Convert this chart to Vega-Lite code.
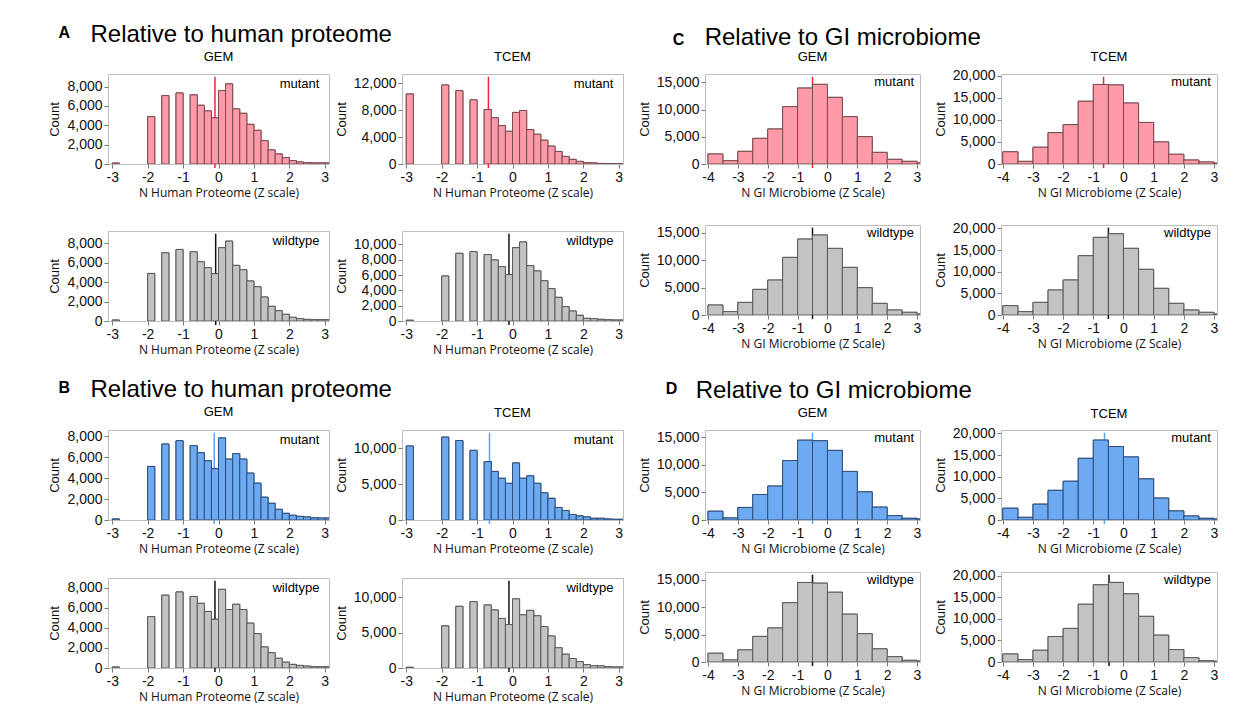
{
"$schema": "https://vega.github.io/schema/vega-lite/v6.json",
"background": "white",
"padding": {"left": 48, "top": 22, "right": 5, "bottom": 5},
"datasets": {
"meds": [
{"p":"AGm","m":-0.1,"g":"mutant"},{"p":"ATm","m":-0.68,"g":"mutant"},{"p":"AGw","m":-0.08,"g":"wildtype"},{"p":"ATw","m":-0.1,"g":"wildtype"},
{"p":"BGm","m":-0.12,"g":"mutant"},{"p":"BTm","m":-0.65,"g":"mutant"},{"p":"BGw","m":-0.1,"g":"wildtype"},{"p":"BTw","m":-0.1,"g":"wildtype"},
{"p":"CGm","m":-0.5,"g":"mutant"},{"p":"CTm","m":-0.66,"g":"mutant"},{"p":"CGw","m":-0.5,"g":"wildtype"},{"p":"CTw","m":-0.5,"g":"wildtype"},
{"p":"DGm","m":-0.5,"g":"mutant"},{"p":"DTm","m":-0.63,"g":"mutant"},{"p":"DGw","m":-0.5,"g":"wildtype"},{"p":"DTw","m":-0.48,"g":"wildtype"}
],
"bins": [
{"p":"AGm","a":-3,"b":-2.8,"n":100},{"p":"AGm","a":-2,"b":-1.8,"n":4900},{"p":"AGm","a":-1.6,"b":-1.4,"n":7070},{"p":"AGm","a":-1.2,"b":-1,"n":7340},{"p":"AGm","a":-0.8,"b":-0.6,"n":7140},{"p":"AGm","a":-0.6,"b":-0.4,"n":6070},{"p":"AGm","a":-0.4,"b":-0.2,"n":5490},{"p":"AGm","a":-0.2,"b":0,"n":4770},{"p":"AGm","a":0,"b":0.2,"n":7590},{"p":"AGm","a":0.2,"b":0.4,"n":8280},{"p":"AGm","a":0.4,"b":0.6,"n":5690},{"p":"AGm","a":0.6,"b":0.8,"n":5240},{"p":"AGm","a":0.8,"b":1,"n":4100},{"p":"AGm","a":1,"b":1.2,"n":3480},{"p":"AGm","a":1.2,"b":1.4,"n":2420},{"p":"AGm","a":1.4,"b":1.6,"n":1450},{"p":"AGm","a":1.6,"b":1.8,"n":1040},{"p":"AGm","a":1.8,"b":2,"n":660},{"p":"AGm","a":2,"b":2.2,"n":350},{"p":"AGm","a":2.2,"b":2.4,"n":210},{"p":"AGm","a":2.4,"b":2.6,"n":140},{"p":"AGm","a":2.6,"b":2.8,"n":110},{"p":"AGm","a":2.8,"b":3,"n":110},{"p":"AGm","a":3,"b":3.2,"n":110},
{"p":"ATm","a":-3,"b":-2.8,"n":10430},{"p":"ATm","a":-2,"b":-1.8,"n":11760},{"p":"ATm","a":-1.6,"b":-1.4,"n":10920},{"p":"ATm","a":-1.2,"b":-1,"n":9550},{"p":"ATm","a":-0.8,"b":-0.6,"n":8120},{"p":"ATm","a":-0.6,"b":-0.4,"n":6890},{"p":"ATm","a":-0.4,"b":-0.2,"n":5710},{"p":"ATm","a":-0.2,"b":0,"n":4870},{"p":"ATm","a":0,"b":0.2,"n":7680},{"p":"ATm","a":0.2,"b":0.4,"n":7970},{"p":"ATm","a":0.4,"b":0.6,"n":5120},{"p":"ATm","a":0.6,"b":0.8,"n":4430},{"p":"ATm","a":0.8,"b":1,"n":3540},{"p":"ATm","a":1,"b":1.2,"n":2660},{"p":"ATm","a":1.2,"b":1.4,"n":1870},{"p":"ATm","a":1.4,"b":1.6,"n":1130},{"p":"ATm","a":1.6,"b":1.8,"n":690},{"p":"ATm","a":1.8,"b":2,"n":390},{"p":"ATm","a":2,"b":2.2,"n":200},{"p":"ATm","a":2.2,"b":2.4,"n":150},{"p":"ATm","a":2.4,"b":2.6,"n":80},{"p":"ATm","a":2.6,"b":2.8,"n":60},{"p":"ATm","a":2.8,"b":3,"n":50},{"p":"ATm","a":3,"b":3.2,"n":40},
{"p":"AGw","a":-3,"b":-2.8,"n":100},{"p":"AGw","a":-2,"b":-1.8,"n":4900},{"p":"AGw","a":-1.6,"b":-1.4,"n":7030},{"p":"AGw","a":-1.2,"b":-1,"n":7370},{"p":"AGw","a":-0.8,"b":-0.6,"n":7130},{"p":"AGw","a":-0.6,"b":-0.4,"n":6100},{"p":"AGw","a":-0.4,"b":-0.2,"n":5490},{"p":"AGw","a":-0.2,"b":0,"n":4870},{"p":"AGw","a":0,"b":0.2,"n":7550},{"p":"AGw","a":0.2,"b":0.4,"n":8230},{"p":"AGw","a":0.4,"b":0.6,"n":5730},{"p":"AGw","a":0.6,"b":0.8,"n":5280},{"p":"AGw","a":0.8,"b":1,"n":4120},{"p":"AGw","a":1,"b":1.2,"n":3530},{"p":"AGw","a":1.2,"b":1.4,"n":2470},{"p":"AGw","a":1.4,"b":1.6,"n":1510},{"p":"AGw","a":1.6,"b":1.8,"n":1060},{"p":"AGw","a":1.8,"b":2,"n":690},{"p":"AGw","a":2,"b":2.2,"n":380},{"p":"AGw","a":2.2,"b":2.4,"n":240},{"p":"AGw","a":2.4,"b":2.6,"n":170},{"p":"AGw","a":2.6,"b":2.8,"n":140},{"p":"AGw","a":2.8,"b":3,"n":140},{"p":"AGw","a":3,"b":3.2,"n":140},
{"p":"ATw","a":-3,"b":-2.8,"n":100},{"p":"ATw","a":-2,"b":-1.8,"n":5870},{"p":"ATw","a":-1.6,"b":-1.4,"n":8830},{"p":"ATw","a":-1.2,"b":-1,"n":9050},{"p":"ATw","a":-0.8,"b":-0.6,"n":8660},{"p":"ATw","a":-0.6,"b":-0.4,"n":7960},{"p":"ATw","a":-0.4,"b":-0.2,"n":7090},{"p":"ATw","a":-0.2,"b":0,"n":6050},{"p":"ATw","a":0,"b":0.2,"n":9570},{"p":"ATw","a":0.2,"b":0.4,"n":10310},{"p":"ATw","a":0.4,"b":0.6,"n":7220},{"p":"ATw","a":0.6,"b":0.8,"n":6530},{"p":"ATw","a":0.8,"b":1,"n":5260},{"p":"ATw","a":1,"b":1.2,"n":4220},{"p":"ATw","a":1.2,"b":1.4,"n":3090},{"p":"ATw","a":1.4,"b":1.6,"n":1870},{"p":"ATw","a":1.6,"b":1.8,"n":1300},{"p":"ATw","a":1.8,"b":2,"n":740},{"p":"ATw","a":2,"b":2.2,"n":350},{"p":"ATw","a":2.2,"b":2.4,"n":300},{"p":"ATw","a":2.4,"b":2.6,"n":220},{"p":"ATw","a":2.6,"b":2.8,"n":170},{"p":"ATw","a":2.8,"b":3,"n":130},{"p":"ATw","a":3,"b":3.2,"n":130},
{"p":"BGm","a":-3,"b":-2.8,"n":100},{"p":"BGm","a":-2,"b":-1.8,"n":5120},{"p":"BGm","a":-1.6,"b":-1.4,"n":7260},{"p":"BGm","a":-1.2,"b":-1,"n":7580},{"p":"BGm","a":-0.8,"b":-0.6,"n":7100},{"p":"BGm","a":-0.6,"b":-0.4,"n":6430},{"p":"BGm","a":-0.4,"b":-0.2,"n":5660},{"p":"BGm","a":-0.2,"b":0,"n":4900},{"p":"BGm","a":0,"b":0.2,"n":7840},{"p":"BGm","a":0.2,"b":0.4,"n":5820},{"p":"BGm","a":0.4,"b":0.6,"n":6340},{"p":"BGm","a":0.6,"b":0.8,"n":5820},{"p":"BGm","a":0.8,"b":1,"n":4480},{"p":"BGm","a":1,"b":1.2,"n":3520},{"p":"BGm","a":1.2,"b":1.4,"n":2180},{"p":"BGm","a":1.4,"b":1.6,"n":1600},{"p":"BGm","a":1.6,"b":1.8,"n":1020},{"p":"BGm","a":1.8,"b":2,"n":640},{"p":"BGm","a":2,"b":2.2,"n":450},{"p":"BGm","a":2.2,"b":2.4,"n":350},{"p":"BGm","a":2.4,"b":2.6,"n":290},{"p":"BGm","a":2.6,"b":2.8,"n":220},{"p":"BGm","a":2.8,"b":3,"n":190},{"p":"BGm","a":3,"b":3.2,"n":190},
{"p":"BTm","a":-3,"b":-2.8,"n":10330},{"p":"BTm","a":-2,"b":-1.8,"n":11570},{"p":"BTm","a":-1.6,"b":-1.4,"n":11090},{"p":"BTm","a":-1.2,"b":-1,"n":9720},{"p":"BTm","a":-0.8,"b":-0.6,"n":8150},{"p":"BTm","a":-0.6,"b":-0.4,"n":6780},{"p":"BTm","a":-0.4,"b":-0.2,"n":5830},{"p":"BTm","a":-0.2,"b":0,"n":5120},{"p":"BTm","a":0,"b":0.2,"n":7960},{"p":"BTm","a":0.2,"b":0.4,"n":5830},{"p":"BTm","a":0.4,"b":0.6,"n":6160},{"p":"BTm","a":0.6,"b":0.8,"n":5120},{"p":"BTm","a":0.8,"b":1,"n":3790},{"p":"BTm","a":1,"b":1.2,"n":3030},{"p":"BTm","a":1.2,"b":1.4,"n":1750},{"p":"BTm","a":1.4,"b":1.6,"n":1330},{"p":"BTm","a":1.6,"b":1.8,"n":760},{"p":"BTm","a":1.8,"b":2,"n":570},{"p":"BTm","a":2,"b":2.2,"n":430},{"p":"BTm","a":2.2,"b":2.4,"n":240},{"p":"BTm","a":2.4,"b":2.6,"n":240},{"p":"BTm","a":2.6,"b":2.8,"n":140},{"p":"BTm","a":2.8,"b":3,"n":100},{"p":"BTm","a":3,"b":3.2,"n":100},
{"p":"BGw","a":-3,"b":-2.8,"n":100},{"p":"BGw","a":-2,"b":-1.8,"n":5120},{"p":"BGw","a":-1.6,"b":-1.4,"n":7260},{"p":"BGw","a":-1.2,"b":-1,"n":7580},{"p":"BGw","a":-0.8,"b":-0.6,"n":7130},{"p":"BGw","a":-0.6,"b":-0.4,"n":6450},{"p":"BGw","a":-0.4,"b":-0.2,"n":5640},{"p":"BGw","a":-0.2,"b":0,"n":4860},{"p":"BGw","a":0,"b":0.2,"n":7840},{"p":"BGw","a":0.2,"b":0.4,"n":5830},{"p":"BGw","a":0.4,"b":0.6,"n":6350},{"p":"BGw","a":0.6,"b":0.8,"n":5830},{"p":"BGw","a":0.8,"b":1,"n":4470},{"p":"BGw","a":1,"b":1.2,"n":3430},{"p":"BGw","a":1.2,"b":1.4,"n":2100},{"p":"BGw","a":1.4,"b":1.6,"n":1520},{"p":"BGw","a":1.6,"b":1.8,"n":970},{"p":"BGw","a":1.8,"b":2,"n":580},{"p":"BGw","a":2,"b":2.2,"n":360},{"p":"BGw","a":2.2,"b":2.4,"n":260},{"p":"BGw","a":2.4,"b":2.6,"n":190},{"p":"BGw","a":2.6,"b":2.8,"n":130},{"p":"BGw","a":2.8,"b":3,"n":130},{"p":"BGw","a":3,"b":3.2,"n":130},
{"p":"BTw","a":-3,"b":-2.8,"n":100},{"p":"BTw","a":-2,"b":-1.8,"n":5950},{"p":"BTw","a":-1.6,"b":-1.4,"n":8710},{"p":"BTw","a":-1.2,"b":-1,"n":9380},{"p":"BTw","a":-0.8,"b":-0.6,"n":8900},{"p":"BTw","a":-0.6,"b":-0.4,"n":8190},{"p":"BTw","a":-0.4,"b":-0.2,"n":7000},{"p":"BTw","a":-0.2,"b":0,"n":6140},{"p":"BTw","a":0,"b":0.2,"n":9760},{"p":"BTw","a":0.2,"b":0.4,"n":7520},{"p":"BTw","a":0.4,"b":0.6,"n":8140},{"p":"BTw","a":0.6,"b":0.8,"n":7380},{"p":"BTw","a":0.8,"b":1,"n":5850},{"p":"BTw","a":1,"b":1.2,"n":4520},{"p":"BTw","a":1.2,"b":1.4,"n":2860},{"p":"BTw","a":1.4,"b":1.6,"n":1950},{"p":"BTw","a":1.6,"b":1.8,"n":1330},{"p":"BTw","a":1.8,"b":2,"n":900},{"p":"BTw","a":2,"b":2.2,"n":480},{"p":"BTw","a":2.2,"b":2.4,"n":330},{"p":"BTw","a":2.4,"b":2.6,"n":290},{"p":"BTw","a":2.6,"b":2.8,"n":190},{"p":"BTw","a":2.8,"b":3,"n":140},{"p":"BTw","a":3,"b":3.2,"n":140},
{"p":"CGm","a":-4,"b":-3.5,"n":1840},{"p":"CGm","a":-3.5,"b":-3,"n":610},{"p":"CGm","a":-3,"b":-2.5,"n":2330},{"p":"CGm","a":-2.5,"b":-2,"n":4710},{"p":"CGm","a":-2,"b":-1.5,"n":6430},{"p":"CGm","a":-1.5,"b":-1,"n":10530},{"p":"CGm","a":-1,"b":-0.5,"n":13950},{"p":"CGm","a":-0.5,"b":0,"n":14630},{"p":"CGm","a":0,"b":0.5,"n":12240},{"p":"CGm","a":0.5,"b":1,"n":8690},{"p":"CGm","a":1,"b":1.5,"n":5020},{"p":"CGm","a":1.5,"b":2,"n":2140},{"p":"CGm","a":2,"b":2.5,"n":860},{"p":"CGm","a":2.5,"b":3,"n":490},{"p":"CGm","a":3,"b":3.5,"n":200},
{"p":"CTm","a":-4,"b":-3.5,"n":2770},{"p":"CTm","a":-3.5,"b":-3,"n":600},{"p":"CTm","a":-3,"b":-2.5,"n":3800},{"p":"CTm","a":-2.5,"b":-2,"n":7100},{"p":"CTm","a":-2,"b":-1.5,"n":8900},{"p":"CTm","a":-1.5,"b":-1,"n":14200},{"p":"CTm","a":-1,"b":-0.5,"n":18000},{"p":"CTm","a":-0.5,"b":0,"n":17900},{"p":"CTm","a":0,"b":0.5,"n":13800},{"p":"CTm","a":0.5,"b":1,"n":9400},{"p":"CTm","a":1,"b":1.5,"n":5000},{"p":"CTm","a":1.5,"b":2,"n":2200},{"p":"CTm","a":2,"b":2.5,"n":900},{"p":"CTm","a":2.5,"b":3,"n":450},{"p":"CTm","a":3,"b":3.5,"n":200},
{"p":"CGw","a":-4,"b":-3.5,"n":1820},{"p":"CGw","a":-3.5,"b":-3,"n":610},{"p":"CGw","a":-3,"b":-2.5,"n":2300},{"p":"CGw","a":-2.5,"b":-2,"n":4670},{"p":"CGw","a":-2,"b":-1.5,"n":6370},{"p":"CGw","a":-1.5,"b":-1,"n":10500},{"p":"CGw","a":-1,"b":-0.5,"n":13840},{"p":"CGw","a":-0.5,"b":0,"n":14570},{"p":"CGw","a":0,"b":0.5,"n":12140},{"p":"CGw","a":0.5,"b":1,"n":8680},{"p":"CGw","a":1,"b":1.5,"n":4980},{"p":"CGw","a":1.5,"b":2,"n":2120},{"p":"CGw","a":2,"b":2.5,"n":910},{"p":"CGw","a":2.5,"b":3,"n":490},{"p":"CGw","a":3,"b":3.5,"n":180},
{"p":"CTw","a":-4,"b":-3.5,"n":2150},{"p":"CTw","a":-3.5,"b":-3,"n":770},{"p":"CTw","a":-3,"b":-2.5,"n":2920},{"p":"CTw","a":-2.5,"b":-2,"n":5770},{"p":"CTw","a":-2,"b":-1.5,"n":8080},{"p":"CTw","a":-1.5,"b":-1,"n":13690},{"p":"CTw","a":-1,"b":-0.5,"n":17920},{"p":"CTw","a":-0.5,"b":0,"n":18760},{"p":"CTw","a":0,"b":0.5,"n":15380},{"p":"CTw","a":0.5,"b":1,"n":10540},{"p":"CTw","a":1,"b":1.5,"n":6150},{"p":"CTw","a":1.5,"b":2,"n":2690},{"p":"CTw","a":2,"b":2.5,"n":1150},{"p":"CTw","a":2.5,"b":3,"n":620},{"p":"CTw","a":3,"b":3.5,"n":230},
{"p":"DGm","a":-4,"b":-3.5,"n":1600},{"p":"DGm","a":-3.5,"b":-3,"n":370},{"p":"DGm","a":-3,"b":-2.5,"n":2280},{"p":"DGm","a":-2.5,"b":-2,"n":4630},{"p":"DGm","a":-2,"b":-1.5,"n":6170},{"p":"DGm","a":-1.5,"b":-1,"n":10800},{"p":"DGm","a":-1,"b":-0.5,"n":14500},{"p":"DGm","a":-0.5,"b":0,"n":14400},{"p":"DGm","a":0,"b":0.5,"n":12650},{"p":"DGm","a":0.5,"b":1,"n":8820},{"p":"DGm","a":1,"b":1.5,"n":5120},{"p":"DGm","a":1.5,"b":2,"n":2340},{"p":"DGm","a":2,"b":2.5,"n":800},{"p":"DGm","a":2.5,"b":3,"n":310},{"p":"DGm","a":3,"b":3.5,"n":180},
{"p":"DTm","a":-4,"b":-3.5,"n":2720},{"p":"DTm","a":-3.5,"b":-3,"n":620},{"p":"DTm","a":-3,"b":-2.5,"n":3660},{"p":"DTm","a":-2.5,"b":-2,"n":6850},{"p":"DTm","a":-2,"b":-1.5,"n":8950},{"p":"DTm","a":-1.5,"b":-1,"n":14240},{"p":"DTm","a":-1,"b":-0.5,"n":18440},{"p":"DTm","a":-0.5,"b":0,"n":16960},{"p":"DTm","a":0,"b":0.5,"n":14550},{"p":"DTm","a":0.5,"b":1,"n":9490},{"p":"DTm","a":1,"b":1.5,"n":5060},{"p":"DTm","a":1.5,"b":2,"n":2100},{"p":"DTm","a":2,"b":2.5,"n":930},{"p":"DTm","a":2.5,"b":3,"n":390},{"p":"DTm","a":3,"b":3.5,"n":230},
{"p":"DGw","a":-4,"b":-3.5,"n":1600},{"p":"DGw","a":-3.5,"b":-3,"n":370},{"p":"DGw","a":-3,"b":-2.5,"n":2210},{"p":"DGw","a":-2.5,"b":-2,"n":4670},{"p":"DGw","a":-2,"b":-1.5,"n":6210},{"p":"DGw","a":-1.5,"b":-1,"n":10820},{"p":"DGw","a":-1,"b":-0.5,"n":14510},{"p":"DGw","a":-0.5,"b":0,"n":14390},{"p":"DGw","a":0,"b":0.5,"n":12730},{"p":"DGw","a":0.5,"b":1,"n":8730},{"p":"DGw","a":1,"b":1.5,"n":5170},{"p":"DGw","a":1.5,"b":2,"n":2400},{"p":"DGw","a":2,"b":2.5,"n":980},{"p":"DGw","a":2.5,"b":3,"n":310},{"p":"DGw","a":3,"b":3.5,"n":180},
{"p":"DTw","a":-4,"b":-3.5,"n":1870},{"p":"DTw","a":-3.5,"b":-3,"n":540},{"p":"DTw","a":-3,"b":-2.5,"n":2720},{"p":"DTw","a":-2.5,"b":-2,"n":5910},{"p":"DTw","a":-2,"b":-1.5,"n":7780},{"p":"DTw","a":-1.5,"b":-1,"n":13380},{"p":"DTw","a":-1,"b":-0.5,"n":17890},{"p":"DTw","a":-0.5,"b":0,"n":18440},{"p":"DTw","a":0,"b":0.5,"n":15790},{"p":"DTw","a":0.5,"b":1,"n":10580},{"p":"DTw","a":1,"b":1.5,"n":6220},{"p":"DTw","a":1.5,"b":2,"n":2880},{"p":"DTw","a":2,"b":2.5,"n":1010},{"p":"DTw","a":2.5,"b":3,"n":310},{"p":"DTw","a":3,"b":3.5,"n":160}
]
},
"vconcat": [
{"hconcat": [
{"title": {"text": "A", "anchor": "start", "frame": "bounds", "fontSize": 16, "fontWeight": "bold", "dx": 10, "offset": -18},
 "vconcat": [
{"title": {"text": "Relative to human proteome", "anchor": "start", "frame": "bounds", "fontSize": 24, "dx": 42, "offset": 4},
 "columns": 2, "spacing": {"row": 31, "column": 4},
 "concat": [
 {"title": "GEM", "width": 221, "height": 90, "layer": [
  {"data": {"name": "bins"}, "transform": [{"filter": "datum.p==='AGm'"}], "mark": {"type": "rect", "fill": "#ff9aa9", "stroke": "#7a4b52", "strokeWidth": 1, "clip": true}, "encoding": {"x": {"field": "a", "type": "quantitative", "scale": {"domain": [-3.12, 3.12], "nice": false, "zero": false}, "axis": {"title": "N Human Proteome (Z scale)", "values": [-3,-2,-1,0,1,2,3], "format": "d", "labelOverlap": false, "tickCount": 20}}, "x2": {"field": "b"}, "y": {"field": "n", "type": "quantitative", "scale": {"domain": [0, 9300], "nice": false}, "axis": {"title": "Count", "values": [0,2000,4000,6000,8000], "format": ",d", "labelOverlap": false, "tickCount": 20}}, "y2": {"datum": 0}}},
  {"data": {"name": "meds"}, "transform": [{"filter": "datum.p==='AGm'"}], "mark": {"type": "rule", "color": "#f0262e", "strokeWidth": 1.5}, "encoding": {"x": {"field": "m", "type": "quantitative"}, "y": {"datum": 9020}, "y2": {"datum": -420}}},
  {"data": {"name": "bins"}, "transform": [{"filter": "datum.p==='AGm'"}], "mark": {"type": "rect", "fill": "#ff9aa9", "stroke": "#7a4b52", "strokeWidth": 1, "clip": true}, "encoding": {"x": {"field": "a", "type": "quantitative"}, "x2": {"field": "b"}, "y": {"field": "n", "type": "quantitative"}, "y2": {"datum": 0}}},
  {"data": {"name": "meds"}, "transform": [{"filter": "datum.p==='AGm'"}], "mark": {"type": "text", "align": "right", "baseline": "middle", "fontSize": 13, "font": "Liberation Sans"}, "encoding": {"x": {"datum": 2.85}, "y": {"datum": 8280}, "text": {"field": "g"}}}
 ]},
 {"title": "TCEM", "width": 221, "height": 90, "layer": [
  {"data": {"name": "bins"}, "transform": [{"filter": "datum.p==='ATm'"}], "mark": {"type": "rect", "fill": "#ff9aa9", "stroke": "#7a4b52", "strokeWidth": 1, "clip": true}, "encoding": {"x": {"field": "a", "type": "quantitative", "scale": {"domain": [-3.12, 3.12], "nice": false, "zero": false}, "axis": {"title": "N Human Proteome (Z scale)", "values": [-3,-2,-1,0,1,2,3], "format": "d", "labelOverlap": false, "tickCount": 20}}, "x2": {"field": "b"}, "y": {"field": "n", "type": "quantitative", "scale": {"domain": [0, 13400], "nice": false}, "axis": {"title": "Count", "values": [0,4000,8000,12000], "format": ",d", "labelOverlap": false, "tickCount": 20}}, "y2": {"datum": 0}}},
  {"data": {"name": "meds"}, "transform": [{"filter": "datum.p==='ATm'"}], "mark": {"type": "rule", "color": "#f0262e", "strokeWidth": 1.5}, "encoding": {"x": {"field": "m", "type": "quantitative"}, "y": {"datum": 13000}, "y2": {"datum": -600}}},
  {"data": {"name": "bins"}, "transform": [{"filter": "datum.p==='ATm'"}], "mark": {"type": "rect", "fill": "#ff9aa9", "stroke": "#7a4b52", "strokeWidth": 1, "clip": true}, "encoding": {"x": {"field": "a", "type": "quantitative"}, "x2": {"field": "b"}, "y": {"field": "n", "type": "quantitative"}, "y2": {"datum": 0}}},
  {"data": {"name": "meds"}, "transform": [{"filter": "datum.p==='ATm'"}], "mark": {"type": "text", "align": "right", "baseline": "middle", "fontSize": 13, "font": "Liberation Sans"}, "encoding": {"x": {"datum": 2.85}, "y": {"datum": 11930}, "text": {"field": "g"}}}
 ]},
 {"width": 221, "height": 90, "layer": [
  {"data": {"name": "bins"}, "transform": [{"filter": "datum.p==='AGw'"}], "mark": {"type": "rect", "fill": "#c3c3c3", "stroke": "#5a5a5a", "strokeWidth": 1, "clip": true}, "encoding": {"x": {"field": "a", "type": "quantitative", "scale": {"domain": [-3.12, 3.12], "nice": false, "zero": false}, "axis": {"title": "N Human Proteome (Z scale)", "values": [-3,-2,-1,0,1,2,3], "format": "d", "labelOverlap": false, "tickCount": 20}}, "x2": {"field": "b"}, "y": {"field": "n", "type": "quantitative", "scale": {"domain": [0, 9270], "nice": false}, "axis": {"title": "Count", "values": [0,2000,4000,6000,8000], "format": ",d", "labelOverlap": false, "tickCount": 20}}, "y2": {"datum": 0}}},
  {"data": {"name": "meds"}, "transform": [{"filter": "datum.p==='AGw'"}], "mark": {"type": "rule", "color": "#111111", "strokeWidth": 1.5}, "encoding": {"x": {"field": "m", "type": "quantitative"}, "y": {"datum": 8990}, "y2": {"datum": -420}}},
  {"data": {"name": "bins"}, "transform": [{"filter": "datum.p==='AGw'"}], "mark": {"type": "rect", "fill": "#c3c3c3", "stroke": "#5a5a5a", "strokeWidth": 1, "clip": true}, "encoding": {"x": {"field": "a", "type": "quantitative"}, "x2": {"field": "b"}, "y": {"field": "n", "type": "quantitative"}, "y2": {"datum": 0}}},
  {"data": {"name": "meds"}, "transform": [{"filter": "datum.p==='AGw'"}], "mark": {"type": "text", "align": "right", "baseline": "middle", "fontSize": 13, "font": "Liberation Sans"}, "encoding": {"x": {"datum": 2.85}, "y": {"datum": 8250}, "text": {"field": "g"}}}
 ]},
 {"width": 221, "height": 90, "layer": [
  {"data": {"name": "bins"}, "transform": [{"filter": "datum.p==='ATw'"}], "mark": {"type": "rect", "fill": "#c3c3c3", "stroke": "#5a5a5a", "strokeWidth": 1, "clip": true}, "encoding": {"x": {"field": "a", "type": "quantitative", "scale": {"domain": [-3.12, 3.12], "nice": false, "zero": false}, "axis": {"title": "N Human Proteome (Z scale)", "values": [-3,-2,-1,0,1,2,3], "format": "d", "labelOverlap": false, "tickCount": 20}}, "x2": {"field": "b"}, "y": {"field": "n", "type": "quantitative", "scale": {"domain": [0, 11740], "nice": false}, "axis": {"title": "Count", "values": [0,2000,4000,6000,8000,10000], "format": ",d", "labelOverlap": false, "tickCount": 20}}, "y2": {"datum": 0}}},
  {"data": {"name": "meds"}, "transform": [{"filter": "datum.p==='ATw'"}], "mark": {"type": "rule", "color": "#111111", "strokeWidth": 1.5}, "encoding": {"x": {"field": "m", "type": "quantitative"}, "y": {"datum": 11390}, "y2": {"datum": -530}}},
  {"data": {"name": "bins"}, "transform": [{"filter": "datum.p==='ATw'"}], "mark": {"type": "rect", "fill": "#c3c3c3", "stroke": "#5a5a5a", "strokeWidth": 1, "clip": true}, "encoding": {"x": {"field": "a", "type": "quantitative"}, "x2": {"field": "b"}, "y": {"field": "n", "type": "quantitative"}, "y2": {"datum": 0}}},
  {"data": {"name": "meds"}, "transform": [{"filter": "datum.p==='ATw'"}], "mark": {"type": "text", "align": "right", "baseline": "middle", "fontSize": 13, "font": "Liberation Sans"}, "encoding": {"x": {"datum": 2.85}, "y": {"datum": 10450}, "text": {"field": "g"}}}
 ]}
 ]}]},
{"title": {"text": "C", "anchor": "start", "frame": "bounds", "fontSize": 16, "fontWeight": "bold", "dx": 35, "dy": 4, "offset": -18},
 "vconcat": [
{"title": {"text": "Relative to GI microbiome", "anchor": "start", "frame": "bounds", "fontSize": 24, "dx": 67, "dy": 4, "offset": 4},
 "columns": 2, "spacing": {"row": 21, "column": 11},
 "concat": [
 {"title": "GEM", "width": 215, "height": 90, "layer": [
  {"data": {"name": "bins"}, "transform": [{"filter": "datum.p==='CGm'"}], "mark": {"type": "rect", "fill": "#ff9aa9", "stroke": "#7a4b52", "strokeWidth": 1, "clip": true}, "encoding": {"x": {"field": "a", "type": "quantitative", "scale": {"domain": [-4.1, 3.1], "nice": false, "zero": false}, "axis": {"title": "N GI Microbiome (Z Scale)", "values": [-4,-3,-2,-1,0,1,2,3], "format": "d", "labelOverlap": false, "tickCount": 20}}, "x2": {"field": "b"}, "y": {"field": "n", "type": "quantitative", "scale": {"domain": [0, 16530], "nice": false}, "axis": {"title": "Count", "values": [0,5000,10000,15000], "format": ",d", "labelOverlap": false, "tickCount": 20}}, "y2": {"datum": 0}}},
  {"data": {"name": "meds"}, "transform": [{"filter": "datum.p==='CGm'"}], "mark": {"type": "rule", "color": "#f0262e", "strokeWidth": 1.5}, "encoding": {"x": {"field": "m", "type": "quantitative"}, "y": {"datum": 16000}, "y2": {"datum": -740}}},
  {"data": {"name": "bins"}, "transform": [{"filter": "datum.p==='CGm'"}], "mark": {"type": "rect", "fill": "#ff9aa9", "stroke": "#7a4b52", "strokeWidth": 1, "clip": true}, "encoding": {"x": {"field": "a", "type": "quantitative"}, "x2": {"field": "b"}, "y": {"field": "n", "type": "quantitative"}, "y2": {"datum": 0}}},
  {"data": {"name": "meds"}, "transform": [{"filter": "datum.p==='CGm'"}], "mark": {"type": "text", "align": "right", "baseline": "middle", "fontSize": 13, "font": "Liberation Sans"}, "encoding": {"x": {"datum": 2.9}, "y": {"datum": 15040}, "text": {"field": "g"}}}
 ]},
 {"title": {"text": "TCEM", "offset": 5}, "width": 216, "height": 90, "layer": [
  {"data": {"name": "bins"}, "transform": [{"filter": "datum.p==='CTm'"}], "mark": {"type": "rect", "fill": "#ff9aa9", "stroke": "#7a4b52", "strokeWidth": 1, "clip": true}, "encoding": {"x": {"field": "a", "type": "quantitative", "scale": {"domain": [-4.06, 3.1], "nice": false, "zero": false}, "axis": {"title": "N GI Microbiome (Z Scale)", "values": [-4,-3,-2,-1,0,1,2,3], "format": "d", "labelOverlap": false, "tickCount": 20}}, "x2": {"field": "b"}, "y": {"field": "n", "type": "quantitative", "scale": {"domain": [0, 20370], "nice": false}, "axis": {"title": "Count", "values": [0,5000,10000,15000,20000], "format": ",d", "labelOverlap": false, "tickCount": 20}}, "y2": {"datum": 0}}},
  {"data": {"name": "meds"}, "transform": [{"filter": "datum.p==='CTm'"}], "mark": {"type": "rule", "color": "#f0262e", "strokeWidth": 1.5}, "encoding": {"x": {"field": "m", "type": "quantitative"}, "y": {"datum": 19760}, "y2": {"datum": -920}}},
  {"data": {"name": "bins"}, "transform": [{"filter": "datum.p==='CTm'"}], "mark": {"type": "rect", "fill": "#ff9aa9", "stroke": "#7a4b52", "strokeWidth": 1, "clip": true}, "encoding": {"x": {"field": "a", "type": "quantitative"}, "x2": {"field": "b"}, "y": {"field": "n", "type": "quantitative"}, "y2": {"datum": 0}}},
  {"data": {"name": "meds"}, "transform": [{"filter": "datum.p==='CTm'"}], "mark": {"type": "text", "align": "right", "baseline": "middle", "fontSize": 13, "font": "Liberation Sans"}, "encoding": {"x": {"datum": 2.9}, "y": {"datum": 18540}, "text": {"field": "g"}}}
 ]},
 {"width": 215, "height": 90, "layer": [
  {"data": {"name": "bins"}, "transform": [{"filter": "datum.p==='CGw'"}], "mark": {"type": "rect", "fill": "#c3c3c3", "stroke": "#5a5a5a", "strokeWidth": 1, "clip": true}, "encoding": {"x": {"field": "a", "type": "quantitative", "scale": {"domain": [-4.1, 3.1], "nice": false, "zero": false}, "axis": {"title": "N GI Microbiome (Z Scale)", "values": [-4,-3,-2,-1,0,1,2,3], "format": "d", "labelOverlap": false, "tickCount": 20}}, "x2": {"field": "b"}, "y": {"field": "n", "type": "quantitative", "scale": {"domain": [0, 16400], "nice": false}, "axis": {"title": "Count", "values": [0,5000,10000,15000], "format": ",d", "labelOverlap": false, "tickCount": 20}}, "y2": {"datum": 0}}},
  {"data": {"name": "meds"}, "transform": [{"filter": "datum.p==='CGw'"}], "mark": {"type": "rule", "color": "#111111", "strokeWidth": 1.5}, "encoding": {"x": {"field": "m", "type": "quantitative"}, "y": {"datum": 15910}, "y2": {"datum": -740}}},
  {"data": {"name": "bins"}, "transform": [{"filter": "datum.p==='CGw'"}], "mark": {"type": "rect", "fill": "#c3c3c3", "stroke": "#5a5a5a", "strokeWidth": 1, "clip": true}, "encoding": {"x": {"field": "a", "type": "quantitative"}, "x2": {"field": "b"}, "y": {"field": "n", "type": "quantitative"}, "y2": {"datum": 0}}},
  {"data": {"name": "meds"}, "transform": [{"filter": "datum.p==='CGw'"}], "mark": {"type": "text", "align": "right", "baseline": "middle", "fontSize": 13, "font": "Liberation Sans"}, "encoding": {"x": {"datum": 2.9}, "y": {"datum": 14920}, "text": {"field": "g"}}}
 ]},
 {"width": 216, "height": 90, "layer": [
  {"data": {"name": "bins"}, "transform": [{"filter": "datum.p==='CTw'"}], "mark": {"type": "rect", "fill": "#c3c3c3", "stroke": "#5a5a5a", "strokeWidth": 1, "clip": true}, "encoding": {"x": {"field": "a", "type": "quantitative", "scale": {"domain": [-4.06, 3.1], "nice": false, "zero": false}, "axis": {"title": "N GI Microbiome (Z Scale)", "values": [-4,-3,-2,-1,0,1,2,3], "format": "d", "labelOverlap": false, "tickCount": 20}}, "x2": {"field": "b"}, "y": {"field": "n", "type": "quantitative", "scale": {"domain": [0, 20770], "nice": false}, "axis": {"title": "Count", "values": [0,5000,10000,15000,20000], "format": ",d", "labelOverlap": false, "tickCount": 20}}, "y2": {"datum": 0}}},
  {"data": {"name": "meds"}, "transform": [{"filter": "datum.p==='CTw'"}], "mark": {"type": "rule", "color": "#111111", "strokeWidth": 1.5}, "encoding": {"x": {"field": "m", "type": "quantitative"}, "y": {"datum": 20150}, "y2": {"datum": -930}}},
  {"data": {"name": "bins"}, "transform": [{"filter": "datum.p==='CTw'"}], "mark": {"type": "rect", "fill": "#c3c3c3", "stroke": "#5a5a5a", "strokeWidth": 1, "clip": true}, "encoding": {"x": {"field": "a", "type": "quantitative"}, "x2": {"field": "b"}, "y": {"field": "n", "type": "quantitative"}, "y2": {"datum": 0}}},
  {"data": {"name": "meds"}, "transform": [{"filter": "datum.p==='CTw'"}], "mark": {"type": "text", "align": "right", "baseline": "middle", "fontSize": 13, "font": "Liberation Sans"}, "encoding": {"x": {"datum": 2.9}, "y": {"datum": 18900}, "text": {"field": "g"}}}
 ]}
 ]}]}
], "spacing": 13},
{"hconcat": [
{"title": {"text": "B", "anchor": "start", "frame": "bounds", "fontSize": 16, "fontWeight": "bold", "dx": 10, "offset": -18},
 "vconcat": [
{"title": {"text": "Relative to human proteome", "anchor": "start", "frame": "bounds", "fontSize": 24, "dx": 42, "offset": 4},
 "columns": 2, "spacing": {"row": 22, "column": 4},
 "concat": [
 {"title": "GEM", "width": 221, "height": 90, "layer": [
  {"data": {"name": "bins"}, "transform": [{"filter": "datum.p==='BGm'"}], "mark": {"type": "rect", "fill": "#6eaaf2", "stroke": "#2f4f7a", "strokeWidth": 1, "clip": true}, "encoding": {"x": {"field": "a", "type": "quantitative", "scale": {"domain": [-3.12, 3.12], "nice": false, "zero": false}, "axis": {"title": "N Human Proteome (Z scale)", "values": [-3,-2,-1,0,1,2,3], "format": "d", "labelOverlap": false, "tickCount": 20}}, "x2": {"field": "b"}, "y": {"field": "n", "type": "quantitative", "scale": {"domain": [0, 8600], "nice": false}, "axis": {"title": "Count", "values": [0,2000,4000,6000,8000], "format": ",d", "labelOverlap": false, "tickCount": 20}}, "y2": {"datum": 0}}},
  {"data": {"name": "meds"}, "transform": [{"filter": "datum.p==='BGm'"}], "mark": {"type": "rule", "color": "#5ba3f5", "strokeWidth": 1.5}, "encoding": {"x": {"field": "m", "type": "quantitative"}, "y": {"datum": 8340}, "y2": {"datum": -390}}},
  {"data": {"name": "bins"}, "transform": [{"filter": "datum.p==='BGm'"}], "mark": {"type": "rect", "fill": "#6eaaf2", "stroke": "#2f4f7a", "strokeWidth": 1, "clip": true}, "encoding": {"x": {"field": "a", "type": "quantitative"}, "x2": {"field": "b"}, "y": {"field": "n", "type": "quantitative"}, "y2": {"datum": 0}}},
  {"data": {"name": "meds"}, "transform": [{"filter": "datum.p==='BGm'"}], "mark": {"type": "text", "align": "right", "baseline": "middle", "fontSize": 13, "font": "Liberation Sans"}, "encoding": {"x": {"datum": 2.85}, "y": {"datum": 7650}, "text": {"field": "g"}}}
 ]},
 {"title": "TCEM", "width": 221, "height": 90, "layer": [
  {"data": {"name": "bins"}, "transform": [{"filter": "datum.p==='BTm'"}], "mark": {"type": "rect", "fill": "#6eaaf2", "stroke": "#2f4f7a", "strokeWidth": 1, "clip": true}, "encoding": {"x": {"field": "a", "type": "quantitative", "scale": {"domain": [-3.12, 3.12], "nice": false, "zero": false}, "axis": {"title": "N Human Proteome (Z scale)", "values": [-3,-2,-1,0,1,2,3], "format": "d", "labelOverlap": false, "tickCount": 20}}, "x2": {"field": "b"}, "y": {"field": "n", "type": "quantitative", "scale": {"domain": [0, 12560], "nice": false}, "axis": {"title": "Count", "values": [0,5000,10000], "format": ",d", "labelOverlap": false, "tickCount": 20}}, "y2": {"datum": 0}}},
  {"data": {"name": "meds"}, "transform": [{"filter": "datum.p==='BTm'"}], "mark": {"type": "rule", "color": "#5ba3f5", "strokeWidth": 1.5}, "encoding": {"x": {"field": "m", "type": "quantitative"}, "y": {"datum": 12180}, "y2": {"datum": -565}}},
  {"data": {"name": "bins"}, "transform": [{"filter": "datum.p==='BTm'"}], "mark": {"type": "rect", "fill": "#6eaaf2", "stroke": "#2f4f7a", "strokeWidth": 1, "clip": true}, "encoding": {"x": {"field": "a", "type": "quantitative"}, "x2": {"field": "b"}, "y": {"field": "n", "type": "quantitative"}, "y2": {"datum": 0}}},
  {"data": {"name": "meds"}, "transform": [{"filter": "datum.p==='BTm'"}], "mark": {"type": "text", "align": "right", "baseline": "middle", "fontSize": 13, "font": "Liberation Sans"}, "encoding": {"x": {"datum": 2.85}, "y": {"datum": 11180}, "text": {"field": "g"}}}
 ]},
 {"width": 221, "height": 90, "layer": [
  {"data": {"name": "bins"}, "transform": [{"filter": "datum.p==='BGw'"}], "mark": {"type": "rect", "fill": "#c3c3c3", "stroke": "#5a5a5a", "strokeWidth": 1, "clip": true}, "encoding": {"x": {"field": "a", "type": "quantitative", "scale": {"domain": [-3.12, 3.12], "nice": false, "zero": false}, "axis": {"title": "N Human Proteome (Z scale)", "values": [-3,-2,-1,0,1,2,3], "format": "d", "labelOverlap": false, "tickCount": 20}}, "x2": {"field": "b"}, "y": {"field": "n", "type": "quantitative", "scale": {"domain": [0, 8970], "nice": false}, "axis": {"title": "Count", "values": [0,2000,4000,6000,8000], "format": ",d", "labelOverlap": false, "tickCount": 20}}, "y2": {"datum": 0}}},
  {"data": {"name": "meds"}, "transform": [{"filter": "datum.p==='BGw'"}], "mark": {"type": "rule", "color": "#111111", "strokeWidth": 1.5}, "encoding": {"x": {"field": "m", "type": "quantitative"}, "y": {"datum": 8700}, "y2": {"datum": -400}}},
  {"data": {"name": "bins"}, "transform": [{"filter": "datum.p==='BGw'"}], "mark": {"type": "rect", "fill": "#c3c3c3", "stroke": "#5a5a5a", "strokeWidth": 1, "clip": true}, "encoding": {"x": {"field": "a", "type": "quantitative"}, "x2": {"field": "b"}, "y": {"field": "n", "type": "quantitative"}, "y2": {"datum": 0}}},
  {"data": {"name": "meds"}, "transform": [{"filter": "datum.p==='BGw'"}], "mark": {"type": "text", "align": "right", "baseline": "middle", "fontSize": 13, "font": "Liberation Sans"}, "encoding": {"x": {"datum": 2.85}, "y": {"datum": 7980}, "text": {"field": "g"}}}
 ]},
 {"width": 221, "height": 90, "layer": [
  {"data": {"name": "bins"}, "transform": [{"filter": "datum.p==='BTw'"}], "mark": {"type": "rect", "fill": "#c3c3c3", "stroke": "#5a5a5a", "strokeWidth": 1, "clip": true}, "encoding": {"x": {"field": "a", "type": "quantitative", "scale": {"domain": [-3.12, 3.12], "nice": false, "zero": false}, "axis": {"title": "N Human Proteome (Z scale)", "values": [-3,-2,-1,0,1,2,3], "format": "d", "labelOverlap": false, "tickCount": 20}}, "x2": {"field": "b"}, "y": {"field": "n", "type": "quantitative", "scale": {"domain": [0, 12710], "nice": false}, "axis": {"title": "Count", "values": [0,5000,10000], "format": ",d", "labelOverlap": false, "tickCount": 20}}, "y2": {"datum": 0}}},
  {"data": {"name": "meds"}, "transform": [{"filter": "datum.p==='BTw'"}], "mark": {"type": "rule", "color": "#111111", "strokeWidth": 1.5}, "encoding": {"x": {"field": "m", "type": "quantitative"}, "y": {"datum": 12330}, "y2": {"datum": -570}}},
  {"data": {"name": "bins"}, "transform": [{"filter": "datum.p==='BTw'"}], "mark": {"type": "rect", "fill": "#c3c3c3", "stroke": "#5a5a5a", "strokeWidth": 1, "clip": true}, "encoding": {"x": {"field": "a", "type": "quantitative"}, "x2": {"field": "b"}, "y": {"field": "n", "type": "quantitative"}, "y2": {"datum": 0}}},
  {"data": {"name": "meds"}, "transform": [{"filter": "datum.p==='BTw'"}], "mark": {"type": "text", "align": "right", "baseline": "middle", "fontSize": 13, "font": "Liberation Sans"}, "encoding": {"x": {"datum": 2.85}, "y": {"datum": 11310}, "text": {"field": "g"}}}
 ]}
 ]}]},
{"title": {"text": "D", "anchor": "start", "frame": "bounds", "fontSize": 16, "fontWeight": "bold", "dx": 28, "offset": -18},
 "vconcat": [
{"title": {"text": "Relative to GI microbiome", "anchor": "start", "frame": "bounds", "fontSize": 24, "dx": 58, "offset": 4},
 "columns": 2, "spacing": {"row": 13, "column": 11},
 "concat": [
 {"title": "GEM", "width": 215, "height": 90, "layer": [
  {"data": {"name": "bins"}, "transform": [{"filter": "datum.p==='DGm'"}], "mark": {"type": "rect", "fill": "#6eaaf2", "stroke": "#2f4f7a", "strokeWidth": 1, "clip": true}, "encoding": {"x": {"field": "a", "type": "quantitative", "scale": {"domain": [-4.1, 3.1], "nice": false, "zero": false}, "axis": {"title": "N GI Microbiome (Z Scale)", "values": [-4,-3,-2,-1,0,1,2,3], "format": "d", "labelOverlap": false, "tickCount": 20}}, "x2": {"field": "b"}, "y": {"field": "n", "type": "quantitative", "scale": {"domain": [0, 16350], "nice": false}, "axis": {"title": "Count", "values": [0,5000,10000,15000], "format": ",d", "labelOverlap": false, "tickCount": 20}}, "y2": {"datum": 0}}},
  {"data": {"name": "meds"}, "transform": [{"filter": "datum.p==='DGm'"}], "mark": {"type": "rule", "color": "#5ba3f5", "strokeWidth": 1.5}, "encoding": {"x": {"field": "m", "type": "quantitative"}, "y": {"datum": 15860}, "y2": {"datum": -735}}},
  {"data": {"name": "bins"}, "transform": [{"filter": "datum.p==='DGm'"}], "mark": {"type": "rect", "fill": "#6eaaf2", "stroke": "#2f4f7a", "strokeWidth": 1, "clip": true}, "encoding": {"x": {"field": "a", "type": "quantitative"}, "x2": {"field": "b"}, "y": {"field": "n", "type": "quantitative"}, "y2": {"datum": 0}}},
  {"data": {"name": "meds"}, "transform": [{"filter": "datum.p==='DGm'"}], "mark": {"type": "text", "align": "right", "baseline": "middle", "fontSize": 13, "font": "Liberation Sans"}, "encoding": {"x": {"datum": 2.9}, "y": {"datum": 14880}, "text": {"field": "g"}}}
 ]},
 {"title": {"text": "TCEM", "offset": 5}, "width": 216, "height": 90, "layer": [
  {"data": {"name": "bins"}, "transform": [{"filter": "datum.p==='DTm'"}], "mark": {"type": "rect", "fill": "#6eaaf2", "stroke": "#2f4f7a", "strokeWidth": 1, "clip": true}, "encoding": {"x": {"field": "a", "type": "quantitative", "scale": {"domain": [-4.06, 3.1], "nice": false, "zero": false}, "axis": {"title": "N GI Microbiome (Z Scale)", "values": [-4,-3,-2,-1,0,1,2,3], "format": "d", "labelOverlap": false, "tickCount": 20}}, "x2": {"field": "b"}, "y": {"field": "n", "type": "quantitative", "scale": {"domain": [0, 20770], "nice": false}, "axis": {"title": "Count", "values": [0,5000,10000,15000,20000], "format": ",d", "labelOverlap": false, "tickCount": 20}}, "y2": {"datum": 0}}},
  {"data": {"name": "meds"}, "transform": [{"filter": "datum.p==='DTm'"}], "mark": {"type": "rule", "color": "#5ba3f5", "strokeWidth": 1.5}, "encoding": {"x": {"field": "m", "type": "quantitative"}, "y": {"datum": 20150}, "y2": {"datum": -935}}},
  {"data": {"name": "bins"}, "transform": [{"filter": "datum.p==='DTm'"}], "mark": {"type": "rect", "fill": "#6eaaf2", "stroke": "#2f4f7a", "strokeWidth": 1, "clip": true}, "encoding": {"x": {"field": "a", "type": "quantitative"}, "x2": {"field": "b"}, "y": {"field": "n", "type": "quantitative"}, "y2": {"datum": 0}}},
  {"data": {"name": "meds"}, "transform": [{"filter": "datum.p==='DTm'"}], "mark": {"type": "text", "align": "right", "baseline": "middle", "fontSize": 13, "font": "Liberation Sans"}, "encoding": {"x": {"datum": 2.9}, "y": {"datum": 18900}, "text": {"field": "g"}}}
 ]},
 {"width": 215, "height": 90, "layer": [
  {"data": {"name": "bins"}, "transform": [{"filter": "datum.p==='DGw'"}], "mark": {"type": "rect", "fill": "#c3c3c3", "stroke": "#5a5a5a", "strokeWidth": 1, "clip": true}, "encoding": {"x": {"field": "a", "type": "quantitative", "scale": {"domain": [-4.1, 3.1], "nice": false, "zero": false}, "axis": {"title": "N GI Microbiome (Z Scale)", "values": [-4,-3,-2,-1,0,1,2,3], "format": "d", "labelOverlap": false, "tickCount": 20}}, "x2": {"field": "b"}, "y": {"field": "n", "type": "quantitative", "scale": {"domain": [0, 16420], "nice": false}, "axis": {"title": "Count", "values": [0,5000,10000,15000], "format": ",d", "labelOverlap": false, "tickCount": 20}}, "y2": {"datum": 0}}},
  {"data": {"name": "meds"}, "transform": [{"filter": "datum.p==='DGw'"}], "mark": {"type": "rule", "color": "#111111", "strokeWidth": 1.5}, "encoding": {"x": {"field": "m", "type": "quantitative"}, "y": {"datum": 15930}, "y2": {"datum": -740}}},
  {"data": {"name": "bins"}, "transform": [{"filter": "datum.p==='DGw'"}], "mark": {"type": "rect", "fill": "#c3c3c3", "stroke": "#5a5a5a", "strokeWidth": 1, "clip": true}, "encoding": {"x": {"field": "a", "type": "quantitative"}, "x2": {"field": "b"}, "y": {"field": "n", "type": "quantitative"}, "y2": {"datum": 0}}},
  {"data": {"name": "meds"}, "transform": [{"filter": "datum.p==='DGw'"}], "mark": {"type": "text", "align": "right", "baseline": "middle", "fontSize": 13, "font": "Liberation Sans"}, "encoding": {"x": {"datum": 2.9}, "y": {"datum": 14940}, "text": {"field": "g"}}}
 ]},
 {"width": 216, "height": 90, "layer": [
  {"data": {"name": "bins"}, "transform": [{"filter": "datum.p==='DTw'"}], "mark": {"type": "rect", "fill": "#c3c3c3", "stroke": "#5a5a5a", "strokeWidth": 1, "clip": true}, "encoding": {"x": {"field": "a", "type": "quantitative", "scale": {"domain": [-4.06, 3.1], "nice": false, "zero": false}, "axis": {"title": "N GI Microbiome (Z Scale)", "values": [-4,-3,-2,-1,0,1,2,3], "format": "d", "labelOverlap": false, "tickCount": 20}}, "x2": {"field": "b"}, "y": {"field": "n", "type": "quantitative", "scale": {"domain": [0, 20850], "nice": false}, "axis": {"title": "Count", "values": [0,5000,10000,15000,20000], "format": ",d", "labelOverlap": false, "tickCount": 20}}, "y2": {"datum": 0}}},
  {"data": {"name": "meds"}, "transform": [{"filter": "datum.p==='DTw'"}], "mark": {"type": "rule", "color": "#111111", "strokeWidth": 1.5}, "encoding": {"x": {"field": "m", "type": "quantitative"}, "y": {"datum": 20220}, "y2": {"datum": -940}}},
  {"data": {"name": "bins"}, "transform": [{"filter": "datum.p==='DTw'"}], "mark": {"type": "rect", "fill": "#c3c3c3", "stroke": "#5a5a5a", "strokeWidth": 1, "clip": true}, "encoding": {"x": {"field": "a", "type": "quantitative"}, "x2": {"field": "b"}, "y": {"field": "n", "type": "quantitative"}, "y2": {"datum": 0}}},
  {"data": {"name": "meds"}, "transform": [{"filter": "datum.p==='DTw'"}], "mark": {"type": "text", "align": "right", "baseline": "middle", "fontSize": 13, "font": "Liberation Sans"}, "encoding": {"x": {"datum": 2.9}, "y": {"datum": 18970}, "text": {"field": "g"}}}
 ]}
 ]}]}
], "spacing": 13}
],
"spacing": 21,
"config": {
 "font": "Liberation Sans",
 "locale": {"number": {"decimal": ".", "thousands": ",", "grouping": [3], "currency": ["$", ""], "minus": "-"}},
 "view": {"stroke": "#bdbdbd", "strokeWidth": 1},
 "axis": {"grid": false, "domain": false, "labelFont": "Liberation Sans", "labelColor": "#111", "tickColor": "#777", "tickSize": 4, "labelPadding": 2, "titleFont": "Liberation Sans", "titleFontWeight": "normal", "titleColor": "#111", "labelOverlap": false, "labelFlush": false},
 "axisX": {"labelFontSize": 14, "titleFont": "Open Sans", "titleFontSize": 12, "titlePadding": 3},
 "axisY": {"labelFontSize": 14, "titleFontSize": 13, "titlePadding": 5},
 "title": {"font": "Liberation Sans", "fontSize": 13, "fontWeight": "normal", "color": "#000", "offset": 10, "frame": "group", "anchor": "middle"}
}
}
